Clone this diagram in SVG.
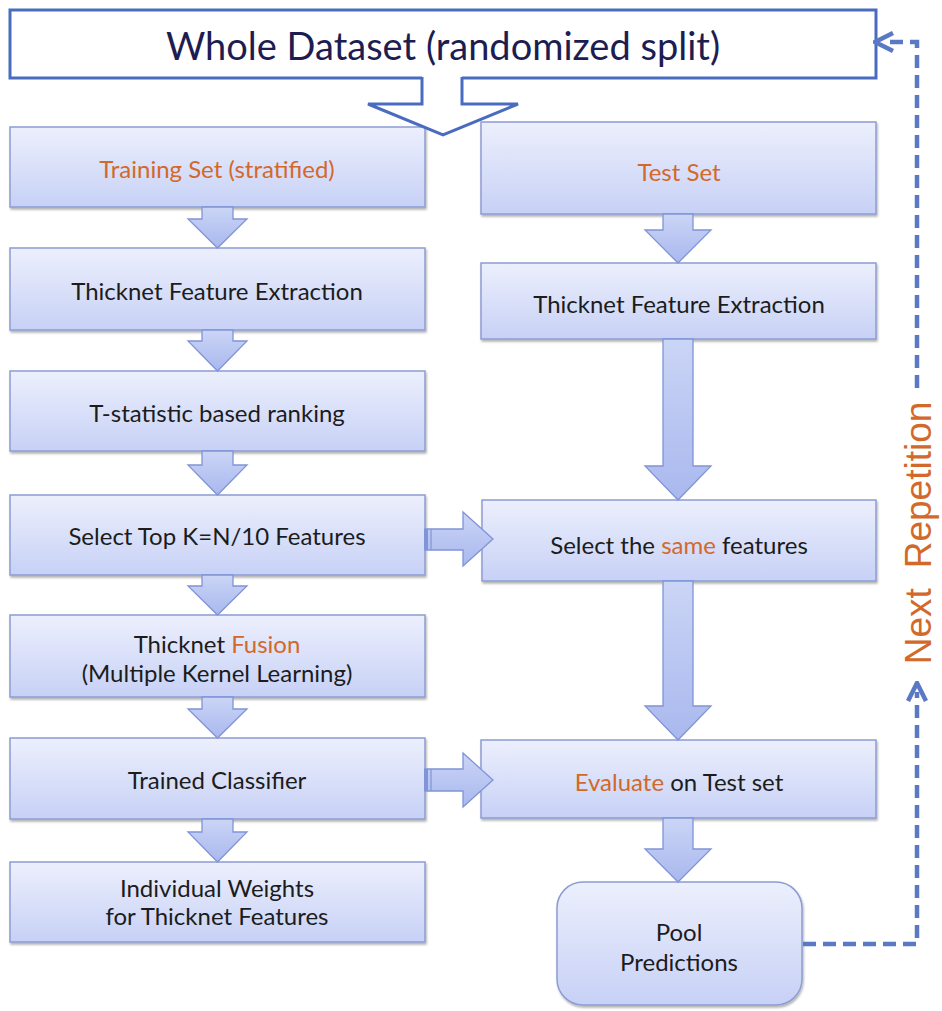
<svg xmlns="http://www.w3.org/2000/svg" width="942" height="1011" viewBox="0 0 942 1011">
<style>
.box{fill:url(#bg);stroke:#8d9cd3;stroke-width:1.5;filter:url(#sh)}
.arr{fill:url(#ag);stroke:#8094d6;stroke-width:1.3}
.t{font-family:Lato,"Open Sans",sans-serif;font-size:24px;fill:#1c1c1c;text-anchor:middle}
.o{fill:#d2692a}
.dash{fill:none;stroke:#5a78c4;stroke-width:4.5;stroke-dasharray:13 7}
</style>
<defs>
<linearGradient id="bg" x1="0" y1="0" x2="0" y2="1">
<stop offset="0" stop-color="#eceffc"/><stop offset="1" stop-color="#c7d1f6"/>
</linearGradient>
<linearGradient id="ag" x1="0" y1="0" x2="0" y2="1">
<stop offset="0" stop-color="#cbd5f6"/><stop offset="1" stop-color="#a9b8ee"/>
</linearGradient>
<filter id="sh" x="-5%" y="-10%" width="110%" height="130%">
<feDropShadow dx="1" dy="2" stdDeviation="1.2" flood-color="#000" flood-opacity="0.3"/>
</filter>
<marker id="ah" viewBox="0 0 10 10" refX="5" refY="5" markerWidth="5" markerHeight="5" orient="auto-start-reverse" markerUnits="strokeWidth">
<path d="M1 1 L9 5 L1 9" fill="none" stroke="#5a78c4" stroke-width="2"/>
</marker>
</defs>
<rect width="942" height="1011" fill="#fff"/>

<g id="whole">
<path d="M422 78 H10 V10 H876 V78 H462" fill="#fff" stroke="#4a6cc0" stroke-width="3"/>
<text x="443" y="60" style="font-family:Lato,'Open Sans',sans-serif;font-size:38px;fill:#1d1d52;text-anchor:middle">Whole Dataset (randomized split)</text>
</g>

<g id="train"><rect class="box" x="10" y="127" width="415" height="80"/><text class="t o" x="217" y="178">Training Set (stratified)</text></g>
<g id="tfe1"><rect class="box" x="10" y="248" width="415" height="82"/><text class="t" x="217" y="300">Thicknet Feature Extraction</text></g>
<g id="tstat"><rect class="box" x="10" y="371" width="415" height="80"/><text class="t" x="217" y="422">T-statistic based ranking</text></g>
<g id="topk"><rect class="box" x="10" y="495" width="415" height="80"/><text class="t" x="217" y="545">Select Top K=N/10 Features</text></g>
<g id="fusion"><rect class="box" x="10" y="615" width="415" height="82"/><text class="t" x="217" y="653">Thicknet <tspan class="o">Fusion</tspan></text><text class="t" x="217" y="682">(Multiple Kernel Learning)</text></g>
<g id="classifier"><rect class="box" x="10" y="738" width="415" height="81"/><text class="t" x="217" y="789">Trained Classifier</text></g>
<g id="weights"><rect class="box" x="10" y="862" width="415" height="80"/><text class="t" x="217" y="897">Individual Weights</text><text class="t" x="217" y="925">for Thicknet Features</text></g>

<g id="test"><rect class="box" x="481" y="122" width="395" height="92"/><text class="t o" x="679" y="181">Test Set</text></g>
<g id="tfe2"><rect class="box" x="481" y="263" width="395" height="76"/><text class="t" x="679" y="313">Thicknet Feature Extraction</text></g>
<g id="same"><rect class="box" x="482" y="500" width="394" height="81"/><text class="t" x="679" y="554">Select the <tspan class="o">same</tspan> features</text></g>
<g id="evaluate"><rect class="box" x="481" y="740" width="395" height="78"/><text class="t" x="679" y="791"><tspan class="o">Evaluate</tspan> on Test set</text></g>
<g id="pool"><rect class="box" x="557" y="882" width="245" height="123" rx="26"/><text class="t" x="679" y="941">Pool</text><text class="t" x="679" y="971">Predictions</text></g>

<g id="connectors">
<path d="M422 77 V104 H368 L443 135 L518 104 H462 V77" fill="#fff" stroke="#4a6cc0" stroke-width="3" stroke-linejoin="miter"/>
<path class="arr" d="M202 207 V219 H188 L217.5 248 L247 219 H233 V207 Z"/>
<path class="arr" d="M202 330 V341 H188 L217.5 371 L247 341 H233 V330 Z"/>
<path class="arr" d="M202 451 V465 H188 L217.5 495 L247 465 H233 V451 Z"/>
<path class="arr" d="M202 575 V586 H188 L217.5 615 L247 586 H233 V575 Z"/>
<path class="arr" d="M202 697 V709 H188 L217.5 738 L247 709 H233 V697 Z"/>
<path class="arr" d="M202 819 V832 H188 L217.5 862 L247 832 H233 V819 Z"/>
<path class="arr" d="M663 214 V230 H645 L678 263 L711 230 H693 V214 Z"/>
<path class="arr" d="M663 339 V466 H645 L678 500 L711 466 H693 V339 Z"/>
<path class="arr" d="M663 581 V706 H645 L678 740 L711 706 H693 V581 Z"/>
<path class="arr" d="M663 818 V849 H645 L678 882 L711 849 H693 V818 Z"/>
<path class="arr" d="M425 529 H463 V512 L493 539 L463 566 V550 H425 Z"/>
<rect x="424" y="529" width="4" height="21" fill="#8094d6"/><line x1="431" y1="529" x2="431" y2="550" stroke="#8094d6" stroke-width="1.2"/>
<path class="arr" d="M425 769 H463 V753 L493 780 L463 807 V791 H425 Z"/>
<rect x="424" y="769" width="4" height="22" fill="#8094d6"/><line x1="431" y1="769" x2="431" y2="791" stroke="#8094d6" stroke-width="1.2"/>
<path class="dash" d="M803 944 H917 V692" marker-end="url(#ah)"/>
<path class="dash" d="M917 388 V42 H884" marker-end="url(#ah)"/>
<text x="931" y="533" transform="rotate(-90 931 533)" style="font-family:'Liberation Sans',Arial,sans-serif;font-size:37px;fill:#d2692a;text-anchor:middle">Next<tspan dx="20">Repetition</tspan></text>
</g>
</svg>
